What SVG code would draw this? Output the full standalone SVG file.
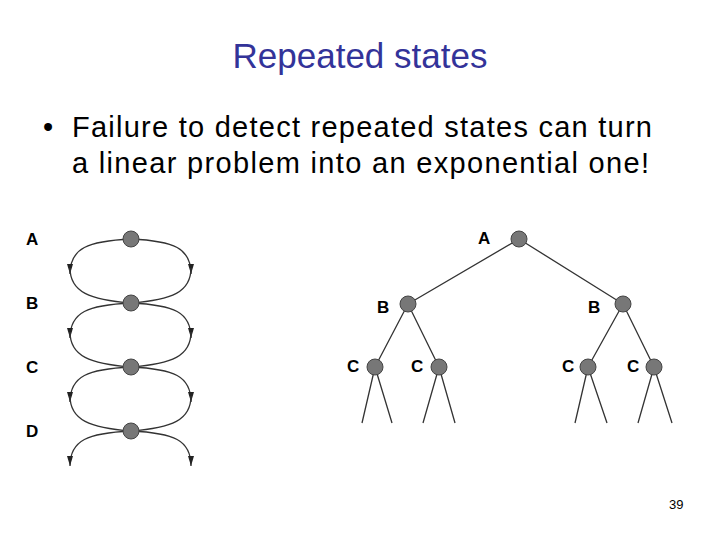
<svg xmlns="http://www.w3.org/2000/svg" width="720" height="540" viewBox="0 0 720 540">
<style>
.t{font-family:"Liberation Sans",Arial,sans-serif}
.lb{font-family:"Liberation Sans",Arial,sans-serif;font-weight:bold;font-size:17px;fill:#000}
.n{fill:#777;stroke:#444;stroke-width:1}
.e{fill:none;stroke:#333;stroke-width:1.3}
</style>
<defs><marker id="ar" markerWidth="10" markerHeight="6" refX="10" refY="3" orient="auto" markerUnits="userSpaceOnUse" viewBox="0 0 10 6"><path d="M0,0 L10,3 L0,6z" fill="#222"/></marker></defs>
<rect width="720" height="540" fill="#fff"/>
<text class="t" x="360" y="68" text-anchor="middle" font-size="35" fill="#333399">Repeated states</text>
<text class="t" x="43" y="137" font-size="29" fill="#000">•</text>
<text class="t" x="72" y="137" font-size="29" fill="#000" textLength="580">Failure to detect repeated states can turn</text>
<text class="t" x="72" y="173" font-size="29" fill="#000" textLength="577">a linear problem into an exponential one!</text>
<g id="connectors">
<path class="e" marker-end="url(#ar)" d="M131,239 C88,241 70,248 70,274"/><path class="e" d="M70,268 C70,292 90,300 131,303"/>
<path class="e" marker-end="url(#ar)" d="M131,239 C174,241 191,248 191,274"/><path class="e" d="M191,268 C191,292 172,300 131,303"/>
<path class="e" marker-end="url(#ar)" d="M131,303 C88,305 70,312 70,338"/><path class="e" d="M70,332 C70,356 90,364 131,367"/>
<path class="e" marker-end="url(#ar)" d="M131,303 C174,305 191,312 191,338"/><path class="e" d="M191,332 C191,356 172,364 131,367"/>
<path class="e" marker-end="url(#ar)" d="M131,367 C88,369 70,376 70,402"/><path class="e" d="M70,396 C70,420 90,428 131,431"/>
<path class="e" marker-end="url(#ar)" d="M131,367 C174,369 191,376 191,402"/><path class="e" d="M191,396 C191,420 172,428 131,431"/>
<path class="e" marker-end="url(#ar)" d="M131,431 C88,433 70,440 70,466"/>
<path class="e" marker-end="url(#ar)" d="M131,431 C174,433 191,440 191,466"/>
<path class="e" d="M519,239 L408,304 M519,239 L623,304 M408,304 L375,367 M408,304 L439,367 M623,304 L588,367 M623,304 L654,367 M375,367 L362,423 M375,367 L392,423 M439,367 L423,423 M439,367 L455,423 M588,367 L575,423 M588,367 L607,423 M654,367 L638,423 M654,367 L672,423"/>
</g>
<g id="left-A"><circle class="n" cx="131" cy="239" r="8"/><text class="lb" x="26" y="245">A</text></g>
<g id="left-B"><circle class="n" cx="131" cy="303" r="8"/><text class="lb" x="26" y="309">B</text></g>
<g id="left-C"><circle class="n" cx="131" cy="367" r="8"/><text class="lb" x="26" y="373">C</text></g>
<g id="left-D"><circle class="n" cx="131" cy="431" r="8"/><text class="lb" x="26" y="437">D</text></g>
<g id="tree-A"><circle class="n" cx="519" cy="239" r="8"/><text class="lb" x="478" y="244">A</text></g>
<g id="tree-B1"><circle class="n" cx="408" cy="304" r="8"/><text class="lb" x="377" y="313">B</text></g>
<g id="tree-B2"><circle class="n" cx="623" cy="304" r="8"/><text class="lb" x="588" y="313">B</text></g>
<g id="tree-C1"><circle class="n" cx="375" cy="367" r="8"/><text class="lb" x="347" y="372">C</text></g>
<g id="tree-C2"><circle class="n" cx="439" cy="367" r="8"/><text class="lb" x="411" y="372">C</text></g>
<g id="tree-C3"><circle class="n" cx="588" cy="367" r="8"/><text class="lb" x="562" y="372">C</text></g>
<g id="tree-C4"><circle class="n" cx="654" cy="367" r="8"/><text class="lb" x="627" y="372">C</text></g>
<text class="t" x="669" y="509" font-size="13" fill="#000">39</text>
</svg>
